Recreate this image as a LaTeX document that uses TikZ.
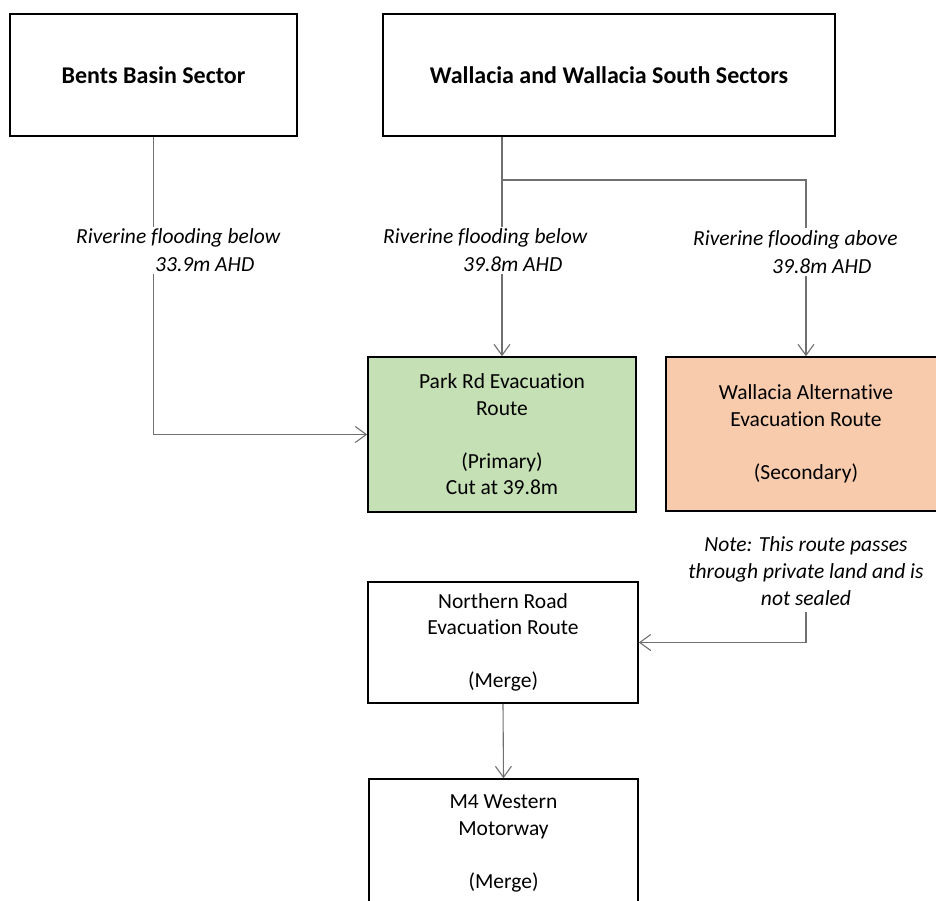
\documentclass[tikz,border=0pt]{standalone}
\usepackage{fontspec}
\setmainfont{Carlito}[Ligatures=NoCommon]
\usetikzlibrary{arrows.meta}

\definecolor{parkgreen}{HTML}{C5E0B4}
\definecolor{altorange}{HTML}{F8CBAD}
\definecolor{linkgray}{HTML}{707070}

\tikzset{
  box/.style={draw=black, line width=1.6pt, rectangle, align=center, inner sep=0pt,
              font=\fontsize{21.5}{26.5}\selectfont},
  sector/.style={box, minimum height=122pt, font=\fontsize{24}{28}\selectfont\bfseries},
  link/.style={draw=linkgray, line width=1.1pt},
  arr/.style={link, -{Straight Barb[length=11pt,width=16pt,line width=1.1pt]}},
  lbl/.style={fill=white, inner xsep=0pt, inner ysep=2pt, align=left, anchor=west,
              font=\fontsize{21.5}{28}\selectfont\itshape},
  notetext/.style={inner sep=2pt, align=center,
              font=\fontsize{21.5}{27}\selectfont\itshape}
}

\begin{document}
\begin{tikzpicture}[x=1pt, y=-1pt]
  \useasboundingbox (0,0) rectangle (936,900);
  \clip (0,0) rectangle (936,900);

  % sectors
  \node[sector, minimum width=287pt] (bents) at (153.5,75) {Bents Basin Sector};
  \node[sector, minimum width=452pt] (wall) at (609,75) {Wallacia and Wallacia South Sectors};

  % evacuation routes
  \node[box, fill=parkgreen, minimum width=268pt, minimum height=155pt]
    (park) at (502,434.5) {Park Rd Evacuation\\Route\\[26.5pt](Primary)\\Cut at 39.8m};
  \node[box, fill=altorange, minimum width=280pt, minimum height=154pt]
    (alt) at (806,434) {Wallacia Alternative\\Evacuation Route\\[26.5pt](Secondary)};
  \node[box, minimum width=270pt, minimum height=121pt]
    (nroad) at (503,642.5) {Northern Road\\Evacuation Route\\[26.5pt](Merge)};
  \node[box, minimum width=269pt, minimum height=129pt]
    (m4) at (503.5,843.5) {M4 Western\\Motorway\\[26.5pt](Merge)};

  % connectors
  \coordinate (wj) at (502,180);
  \draw[arr] (bents.south) |- (park.west);
  \draw[link] (wall.south -| wj) -- (wj);
  \draw[arr] (wj) -- (park.north);
  \draw[arr] (wj) -| (alt.north);
  \draw[arr] (nroad.south) -- (m4.north);

  % conditions on the connectors
  \node[lbl] (lblbents) at (76,250.5) {Riverine flooding below\\\hspace*{79pt}33.9m AHD};
  \node[lbl] (lblbelow) at (383,250.5) {Riverine flooding below\\\hspace*{80pt}39.8m AHD};
  \node[lbl] (lblabove) at (693,252) {Riverine flooding above\\\hspace*{79pt}39.8m AHD};

  % note on the secondary route
  \node[notetext] (note) at (806,571) {Note: This route passes\\through private land and is\\not sealed};
  \draw[arr] (note.south) ++(0,4) |- (nroad.east);
\end{tikzpicture}
\end{document}
